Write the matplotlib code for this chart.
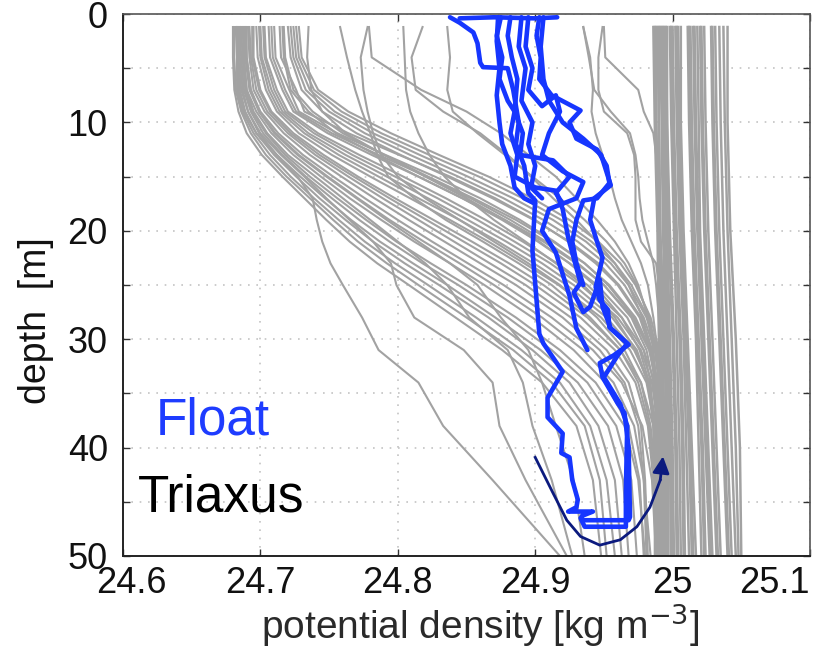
import numpy as np
import matplotlib
matplotlib.use("Agg")
import matplotlib.pyplot as plt
from matplotlib.transforms import ScaledTranslation

plt.rcParams['font.family'] = ['Liberation Sans', 'DejaVu Sans']

# =========================
# DATA
# =========================
# depth grid for the Triaxus profiles [m]
depth = [1.2, 4, 7, 9, 11, 13, 15, 17, 19, 21, 23, 25, 28, 31, 34, 38, 43, 50]

# main bundle: light surface water, bending into the pycnocline
bundle_profiles = [
    [24.680, 24.680, 24.681, 24.684, 24.690, 24.701, 24.716, 24.732, 24.748, 24.765, 24.785, 24.808, 24.842, 24.876, 24.905, 24.930, 24.942, 24.948],
    [24.681, 24.681, 24.682, 24.686, 24.693, 24.704, 24.719, 24.736, 24.753, 24.771, 24.792, 24.815, 24.850, 24.884, 24.912, 24.936, 24.947, 24.952],
    [24.682, 24.683, 24.683, 24.687, 24.695, 24.707, 24.722, 24.739, 24.757, 24.776, 24.798, 24.822, 24.857, 24.890, 24.918, 24.940, 24.952, 24.958],
    [24.683, 24.683, 24.685, 24.689, 24.697, 24.710, 24.726, 24.743, 24.762, 24.782, 24.805, 24.830, 24.866, 24.898, 24.925, 24.946, 24.958, 24.963],
    [24.684, 24.684, 24.686, 24.691, 24.699, 24.712, 24.729, 24.747, 24.766, 24.787, 24.811, 24.836, 24.871, 24.904, 24.931, 24.953, 24.964, 24.968],
    [24.685, 24.686, 24.688, 24.693, 24.702, 24.716, 24.733, 24.752, 24.772, 24.794, 24.818, 24.844, 24.880, 24.912, 24.938, 24.959, 24.970, 24.974],
    [24.686, 24.687, 24.689, 24.694, 24.704, 24.718, 24.736, 24.756, 24.777, 24.799, 24.824, 24.850, 24.886, 24.918, 24.944, 24.965, 24.975, 24.980],
    [24.688, 24.688, 24.690, 24.697, 24.708, 24.724, 24.744, 24.765, 24.788, 24.812, 24.838, 24.863, 24.898, 24.928, 24.951, 24.968, 24.976, 24.979],
    [24.689, 24.689, 24.692, 24.699, 24.711, 24.728, 24.749, 24.771, 24.794, 24.819, 24.845, 24.870, 24.905, 24.935, 24.957, 24.972, 24.979, 24.984],
    [24.690, 24.690, 24.693, 24.700, 24.713, 24.731, 24.753, 24.776, 24.800, 24.825, 24.851, 24.877, 24.912, 24.942, 24.963, 24.978, 24.985, 24.988],
    [24.691, 24.692, 24.695, 24.703, 24.717, 24.736, 24.759, 24.783, 24.808, 24.834, 24.860, 24.886, 24.920, 24.947, 24.965, 24.975, 24.979, 24.981],
    [24.692, 24.693, 24.697, 24.705, 24.720, 24.740, 24.764, 24.789, 24.815, 24.841, 24.867, 24.893, 24.926, 24.952, 24.968, 24.977, 24.980, 24.982],
    [24.694, 24.694, 24.699, 24.707, 24.722, 24.743, 24.768, 24.794, 24.821, 24.848, 24.875, 24.900, 24.933, 24.958, 24.973, 24.982, 24.986, 24.988],
    [24.695, 24.695, 24.700, 24.708, 24.724, 24.746, 24.771, 24.798, 24.826, 24.854, 24.881, 24.906, 24.938, 24.962, 24.977, 24.986, 24.990, 24.992],
    [24.697, 24.698, 24.704, 24.712, 24.728, 24.752, 24.780, 24.809, 24.838, 24.866, 24.892, 24.917, 24.948, 24.969, 24.981, 24.987, 24.989, 24.990],
    [24.699, 24.700, 24.706, 24.714, 24.732, 24.757, 24.786, 24.815, 24.845, 24.873, 24.899, 24.923, 24.952, 24.972, 24.983, 24.988, 24.990, 24.991],
    [24.700, 24.701, 24.708, 24.716, 24.735, 24.762, 24.792, 24.822, 24.851, 24.879, 24.905, 24.928, 24.956, 24.974, 24.982, 24.986, 24.987, 24.987],
    [24.702, 24.703, 24.710, 24.718, 24.739, 24.767, 24.798, 24.829, 24.858, 24.885, 24.911, 24.933, 24.960, 24.977, 24.985, 24.989, 24.990, 24.991],
    [24.703, 24.704, 24.712, 24.720, 24.742, 24.772, 24.804, 24.835, 24.864, 24.891, 24.916, 24.938, 24.963, 24.979, 24.987, 24.991, 24.993, 24.994],
    [24.706, 24.707, 24.716, 24.724, 24.749, 24.781, 24.815, 24.847, 24.876, 24.902, 24.925, 24.945, 24.967, 24.979, 24.984, 24.986, 24.987, 24.988],
    [24.708, 24.709, 24.718, 24.726, 24.752, 24.786, 24.821, 24.853, 24.882, 24.908, 24.931, 24.950, 24.970, 24.981, 24.986, 24.989, 24.990, 24.991],
    [24.710, 24.711, 24.721, 24.728, 24.756, 24.791, 24.827, 24.860, 24.889, 24.914, 24.936, 24.953, 24.972, 24.983, 24.988, 24.991, 24.992, 24.993],
    [24.714, 24.715, 24.726, 24.732, 24.764, 24.801, 24.838, 24.871, 24.900, 24.924, 24.944, 24.960, 24.976, 24.984, 24.987, 24.989, 24.990, 24.991],
    [24.716, 24.717, 24.722, 24.735, 24.755, 24.784, 24.815, 24.847, 24.878, 24.906, 24.930, 24.950, 24.971, 24.983, 24.988, 24.991, 24.992, 24.993],
    [24.717, 24.718, 24.724, 24.738, 24.760, 24.790, 24.822, 24.855, 24.886, 24.913, 24.936, 24.954, 24.973, 24.984, 24.989, 24.992, 24.993, 24.994],
    [24.720, 24.722, 24.730, 24.745, 24.770, 24.802, 24.836, 24.869, 24.899, 24.925, 24.946, 24.961, 24.977, 24.985, 24.987, 24.988, 24.988, 24.989],
    [24.722, 24.724, 24.733, 24.750, 24.776, 24.809, 24.844, 24.877, 24.906, 24.931, 24.951, 24.965, 24.979, 24.987, 24.990, 24.992, 24.993, 24.994],
    [24.724, 24.726, 24.736, 24.754, 24.782, 24.816, 24.851, 24.884, 24.913, 24.937, 24.955, 24.968, 24.981, 24.988, 24.991, 24.993, 24.994, 24.995],
    [24.726, 24.728, 24.739, 24.759, 24.788, 24.823, 24.859, 24.891, 24.919, 24.941, 24.958, 24.970, 24.982, 24.989, 24.991, 24.993, 24.994, 24.995],
    [24.728, 24.730, 24.742, 24.764, 24.795, 24.830, 24.866, 24.898, 24.925, 24.946, 24.962, 24.973, 24.984, 24.990, 24.992, 24.994, 24.995, 24.996],
]

# profiles that leave the bundle and stay light down to the bottom
deep_profiles = [
    [24.683, 24.683, 24.684, 24.688, 24.697, 24.712, 24.727, 24.738, 24.741, 24.745, 24.751, 24.760, 24.774, 24.786, 24.815, 24.833, 24.869, 24.918],
    [24.685, 24.685, 24.687, 24.691, 24.700, 24.715, 24.732, 24.748, 24.765, 24.782, 24.795, 24.799, 24.812, 24.848, 24.869, 24.874, 24.893, 24.923],
    [24.687, 24.688, 24.690, 24.695, 24.705, 24.720, 24.740, 24.760, 24.780, 24.800, 24.820, 24.836, 24.852, 24.880, 24.891, 24.898, 24.912, 24.927],
    [24.689, 24.690, 24.693, 24.699, 24.710, 24.727, 24.748, 24.770, 24.792, 24.815, 24.838, 24.858, 24.875, 24.895, 24.905, 24.915, 24.928, 24.936],
]

# individual profiles starting denser at the surface
upper_profiles = [
    [24.735, 24.734, 24.737, 24.745, 24.762, 24.790, 24.820, 24.850, 24.878, 24.903, 24.925, 24.943, 24.963, 24.976, 24.983, 24.987, 24.989, 24.990],
    [24.758, 24.763, 24.769, 24.774, 24.780, 24.785, 24.793, 24.812, 24.835, 24.862, 24.888, 24.912, 24.940, 24.962, 24.975, 24.983, 24.987, 24.989],
    [24.778, 24.773, 24.775, 24.778, 24.782, 24.788, 24.800, 24.820, 24.845, 24.870, 24.895, 24.918, 24.945, 24.965, 24.977, 24.984, 24.988, 24.990],
    [24.779, 24.781, 24.817, 24.850, 24.875, 24.895, 24.915, 24.930, 24.945, 24.958, 24.968, 24.975, 24.982, 24.986, 24.988, 24.990, 24.991, 24.992],
    [24.804, 24.805, 24.806, 24.809, 24.815, 24.823, 24.834, 24.850, 24.870, 24.893, 24.915, 24.935, 24.958, 24.973, 24.982, 24.987, 24.989, 24.990],
    [24.818, 24.810, 24.813, 24.833, 24.860, 24.880, 24.897, 24.913, 24.930, 24.945, 24.958, 24.968, 24.978, 24.985, 24.989, 24.991, 24.992, 24.993],
    [24.836, 24.838, 24.836, 24.840, 24.858, 24.878, 24.898, 24.918, 24.936, 24.952, 24.965, 24.974, 24.983, 24.988, 24.990, 24.992, 24.993, 24.994],
    [24.935, 24.940, 24.942, 24.941, 24.944, 24.949, 24.954, 24.958, 24.963, 24.970, 24.977, 24.982, 24.986, 24.989, 24.990, 24.991, 24.992, 24.992],
    [24.949, 24.946, 24.946, 24.950, 24.967, 24.972, 24.973, 24.973, 24.973, 24.977, 24.988, 24.990, 24.991, 24.992, 24.993, 24.993, 24.994, 24.994],
    [24.950, 24.951, 24.975, 24.979, 24.986, 24.988, 24.989, 24.990, 24.990, 24.991, 24.992, 24.993, 24.993, 24.994, 24.995, 24.995, 24.996, 24.996],
    [24.935, 24.939, 24.943, 24.955, 24.969, 24.973, 24.975, 24.976, 24.978, 24.982, 24.986, 24.988, 24.990, 24.991, 24.992, 24.993, 24.993, 24.994],
]

# well mixed profiles (dense band near 25.0)
band_depth = [1.2, 10, 20, 30, 40, 50]
band_profiles = [
    [24.986, 24.987, 24.989, 24.990, 24.989, 24.990],
    [24.987, 24.988, 24.990, 24.991, 24.991, 24.991],
    [24.988, 24.988, 24.990, 24.992, 24.993, 24.992],
    [24.989, 24.990, 24.991, 24.993, 24.994, 24.994],
    [24.990, 24.990, 24.991, 24.994, 24.996, 24.995],
    [24.991, 24.992, 24.993, 24.995, 24.997, 24.997],
    [24.992, 24.993, 24.994, 24.996, 24.998, 24.999],
    [24.993, 24.994, 24.995, 24.997, 24.999, 25.000],
    [24.994, 24.995, 24.996, 24.998, 25.000, 25.001],
    [24.995, 24.996, 24.997, 25.000, 25.002, 25.003],
    [24.996, 24.996, 24.998, 25.001, 25.003, 25.004],
    [24.998, 24.999, 25.001, 25.003, 25.005, 25.006],
    [24.999, 25.000, 25.002, 25.005, 25.007, 25.008],
    [25.000, 25.001, 25.003, 25.006, 25.008, 25.009],
    [25.002, 25.003, 25.005, 25.008, 25.010, 25.012],
    [25.003, 25.004, 25.006, 25.009, 25.012, 25.014],
    [25.004, 25.005, 25.007, 25.010, 25.013, 25.015],
    [25.006, 25.006, 25.008, 25.011, 25.014, 25.017],
    [25.011, 25.012, 25.014, 25.017, 25.019, 25.021],
    [25.012, 25.013, 25.015, 25.018, 25.021, 25.023],
    [25.013, 25.014, 25.016, 25.019, 25.022, 25.024],
    [25.015, 25.016, 25.018, 25.021, 25.024, 25.027],
    [25.016, 25.017, 25.019, 25.022, 25.025, 25.028],
    [25.018, 25.019, 25.020, 25.023, 25.026, 25.029],
    [25.020, 25.021, 25.023, 25.026, 25.029, 25.032],
    [25.021, 25.022, 25.024, 25.027, 25.030, 25.033],
    [25.023, 25.024, 25.026, 25.029, 25.032, 25.035],
    [25.028, 25.029, 25.031, 25.034, 25.037, 25.040],
    [25.029, 25.030, 25.032, 25.035, 25.038, 25.041],
    [25.031, 25.032, 25.034, 25.037, 25.040, 25.043],
    [25.034, 25.035, 25.037, 25.040, 25.043, 25.046],
    [25.037, 25.038, 25.040, 25.043, 25.046, 25.048],
    [25.040, 25.040, 25.042, 25.046, 25.049, 25.050],
]

# float dives as (density, depth) pairs
float_surface = [(24.916, 0.3), (24.900, 0.4), (24.870, 0.3), (24.845, 0.4)]
float_dive1 = [(24.838, 0.3), (24.845, 0.8), (24.855, 1.7), (24.858, 2.7), (24.860, 4.5), (24.862, 4.9),
               (24.880, 5.0), (24.884, 7.0), (24.888, 10.0), (24.886, 12.0), (24.892, 14.0), (24.895, 16.5),
               (24.900, 17.2), (24.898, 21.8), (24.901, 26.4), (24.903, 29.5), (24.906, 30.4), (24.920, 33.0),
               (24.909, 35.4), (24.909, 37.2), (24.920, 38.7), (24.919, 40.5), (24.925, 40.9), (24.927, 43.0),
               (24.931, 44.8), (24.930, 45.5), (24.924, 45.9), (24.942, 45.9), (24.934, 46.3), (24.934, 46.7),
               (24.968, 46.7), (24.969, 46.4), (24.968, 40.0), (24.965, 36.8), (24.960, 35.9), (24.949, 33.5),
               (24.947, 32.2), (24.957, 31.5), (24.968, 30.5), (24.962, 29.8), (24.954, 28.9), (24.953, 27.3),
               (24.947, 26.4), (24.944, 25.2), (24.949, 22.5), (24.945, 21.0), (24.940, 19.0), (24.943, 17.0),
               (24.955, 15.8), (24.948, 13.0), (24.935, 11.5), (24.920, 10.0), (24.910, 8.0), (24.906, 6.0),
               (24.904, 3.0), (24.906, 0.3)]
float_dive2 = [(24.875, 0.3), (24.872, 2.0), (24.876, 4.0), (24.874, 6.0), (24.880, 8.0), (24.885, 9.0),
               (24.882, 11.0), (24.887, 13.0), (24.885, 15.0), (24.900, 16.0), (24.915, 16.3), (24.920, 18.0),
               (24.924, 20.6), (24.928, 22.5), (24.933, 24.8), (24.928, 25.7), (24.935, 27.5), (24.940, 27.0),
               (24.947, 24.5), (24.949, 27.0), (24.955, 29.0), (24.967, 30.4), (24.960, 31.5), (24.950, 33.5),
               (24.962, 36.0), (24.967, 38.0), (24.966, 44.0), (24.966, 47.3), (24.936, 47.3), (24.933, 46.5)]
float_dive3 = [(24.895, 0.3), (24.893, 3.0), (24.898, 5.0), (24.895, 7.0), (24.905, 8.5), (24.915, 7.5),
               (24.918, 9.0), (24.910, 11.0), (24.905, 13.0), (24.920, 14.5), (24.935, 15.5), (24.930, 17.0),
               (24.910, 18.0), (24.905, 20.0), (24.915, 22.0), (24.920, 24.0), (24.925, 26.0), (24.930, 29.0),
               (24.938, 31.0)]
float_dive4 = [(24.903, 0.3), (24.901, 2.0), (24.904, 4.0), (24.903, 6.0), (24.912, 7.5), (24.933, 8.9),
               (24.925, 10.0), (24.930, 11.5), (24.945, 12.5), (24.952, 14.0), (24.954, 15.6), (24.945, 17.0),
               (24.935, 17.2), (24.930, 19.0), (24.927, 21.0), (24.930, 23.0), (24.935, 25.0)]
float_dive5 = [(24.873, 0.3), (24.872, 2.5), (24.874, 5.0), (24.872, 7.5), (24.874, 10.0), (24.876, 12.0),
               (24.882, 14.0), (24.885, 16.0), (24.892, 17.0), (24.900, 17.5)]
float_dive6 = [(24.890, 0.3), (24.888, 3.0), (24.893, 5.0), (24.890, 8.0), (24.898, 10.0), (24.895, 12.0),
               (24.900, 14.0), (24.897, 16.0), (24.905, 17.0)]
float_dive7 = [(24.882, 0.3), (24.880, 2.0), (24.883, 4.0), (24.887, 6.0), (24.885, 9.0), (24.891, 11.0),
               (24.889, 13.0), (24.913, 13.5), (24.925, 15.0), (24.915, 16.5), (24.920, 17.5)]

# curved arrow showing the float path
arrow_rho = [24.900, 24.913, 24.923, 24.933, 24.947, 24.962, 24.974, 24.9835, 24.991, 24.993]
arrow_z = [40.9, 44.2, 46.7, 48.2, 49.0, 48.5, 47.3, 45.5, 43.0, 40.8]

GRAY = "#a2a2a2"
BLUE = "#1636ff"
NAVY = "#0b1a7e"

# =========================
# PLOT
# =========================
fig = plt.figure(figsize=(8.17, 6.49), dpi=100)
ax = fig.add_axes([0.1506, 0.1433, 0.8408, 0.8351])

for prof in band_profiles:
    ax.plot(prof, band_depth, color=GRAY, lw=1.8, solid_joinstyle='round')
for group in (bundle_profiles, deep_profiles, upper_profiles):
    for prof in group:
        ax.plot(prof, depth, color=GRAY, lw=1.5, solid_joinstyle='round')

for dive in (float_surface, float_dive1, float_dive2, float_dive3, float_dive4,
             float_dive5, float_dive6, float_dive7):
    r, z = zip(*dive)
    ax.plot(r, z, color=BLUE, lw=3.3, solid_joinstyle='round', solid_capstyle='round')

ax.plot(arrow_rho[:-1], arrow_z[:-1], color=NAVY, lw=2.0)
ax.annotate("", xy=(arrow_rho[-1], arrow_z[-1]), xytext=(arrow_rho[-2], arrow_z[-2]),
            arrowprops=dict(arrowstyle="-|>,head_length=1.0,head_width=0.5", color=NAVY, lw=2.0,
                            shrinkA=0, shrinkB=0))

ax.text(24.624, 38.8, "Float", color="#1e3cff", fontsize=37, ha="left", va="baseline")
ax.text(24.611, 45.9, "Triaxus", color="black", fontsize=37, ha="left", va="baseline")

ax.set_xlim(24.6, 25.1)
ax.set_ylim(50, 0)
ax.set_xticks([24.6, 24.7, 24.8, 24.9, 25.0, 25.1])
ax.set_xticklabels(["24.6", "24.7", "24.8", "24.9", "25", "25.1"])
ax.set_yticks([0, 10, 20, 30, 40, 50])
ax.set_yticks([5, 15, 25, 35, 45], minor=True)

ax.tick_params(which="both", direction="in", top=True, right=True, length=5, width=1.0,
               colors="#333333", labelsize=26, labelcolor="#111111")
ax.tick_params(axis="x", pad=7)
ax.tick_params(axis="y", pad=11)
xlabels = ax.get_xticklabels()
xlabels[-1].set_ha("right")
xlabels[0].set_transform(xlabels[0].get_transform() + ScaledTranslation(6 / 72, 0, fig.dpi_scale_trans))

ax.grid(True, which="major", axis="x", color="#c4c4c4", ls=(0, (1, 4)), lw=1.2)
ax.grid(True, which="both", axis="y", color="#c4c4c4", ls=(0, (1, 4)), lw=1.2)
ax.set_axisbelow(True)

for side in ("left", "bottom"):
    ax.spines[side].set_color("#222222")
    ax.spines[side].set_linewidth(1.4)
for side in ("top", "right"):
    ax.spines[side].set_color("#555555")
    ax.spines[side].set_linewidth(1.2)

ax.set_xlabel("potential density [kg m$^{-3}$]", fontsize=28, color="#2a2a2a")
ax.set_ylabel("depth  [m]", fontsize=27, color="#111111")
ax.xaxis.set_label_coords(0.52, -0.083)
ax.yaxis.set_label_coords(-0.10, 0.435)

fig.savefig("out.png", dpi=100)
